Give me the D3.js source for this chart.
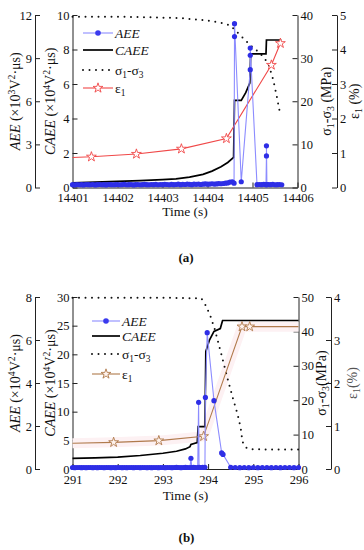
<!DOCTYPE html>
<html><head><meta charset="utf-8">
<script src="https://cdn.jsdelivr.net/npm/d3@7"></script>
<style>body{margin:0;background:#fff}svg{display:block}</style>
</head><body>
<svg id="c" width="364" height="550"></svg>
<script>
// ---------- Panel (a) data ----------
const timeTicksA = [14401, 14402, 14403, 14404, 14405, 14406];
const timeMinorA = [14401.5, 14402.5, 14403.5, 14404.5, 14405.5];
const aeeTicksA = [0, 3, 6, 9, 12];
const aeeMinorA = [1.5, 4.5, 7.5, 10.5];
const caeeTicksA = [0, 2, 4, 6, 8, 10];
const caeeMinorA = [1, 3, 5, 7, 9];
const stressTicksA = [0, 10, 20, 30, 40];
const stressMinorA = [5, 15, 25, 35];
const strainTicksA = [0, 1, 2, 3, 4, 5];
const strainMinorA = [0.5, 1.5, 2.5, 3.5, 4.5];
const caeeA = [[14401,0.27],[14401.5,0.31],[14402,0.35],[14402.5,0.4],[14403,0.46],[14403.3,0.5],[14403.6,0.6],[14403.9,0.76],[14404.1,0.95],[14404.3,1.2],[14404.45,1.45],[14404.58,1.75],[14404.6,5.05],[14404.75,5.05],[14404.85,5.5],[14404.94,6.05],[14404.96,7.75],[14405.3,7.75],[14405.31,8.55],[14405.64,8.55]];
const stressA = [[14401,39.6],[14402,39.6],[14403,39.4],[14403.5,39.2],[14404,38.7],[14404.3,38.2],[14404.5,37.6],[14404.72,35.4],[14404.94,33.1],[14405.17,31.1],[14405.35,28.8],[14405.46,25],[14405.54,21.1],[14405.61,17.3]];
const strainA = [[14401,0.87],[14401.42,0.89],[14402.42,0.97],[14403.42,1.12],[14404.42,1.42],[14405.42,3.55],[14405.62,4.18]];
const aeeA = [
  [14401.00,0.20],[14401.05,0.18],[14401.10,0.21],[14401.15,0.19],[14401.20,0.20],[14401.25,0.18],[14401.30,0.21],[14401.35,0.20],[14401.40,0.19],[14401.45,0.21],
  [14401.50,0.18],[14401.55,0.20],[14401.60,0.21],[14401.65,0.19],[14401.70,0.20],[14401.75,0.18],[14401.80,0.21],[14401.85,0.20],[14401.90,0.19],[14401.95,0.20],
  [14402.00,0.21],[14402.05,0.19],[14402.10,0.20],[14402.15,0.22],[14402.20,0.19],[14402.25,0.20],[14402.30,0.21],[14402.35,0.18],[14402.40,0.20],[14402.45,0.21],
  [14402.50,0.19],[14402.55,0.20],[14402.60,0.22],[14402.65,0.20],[14402.70,0.19],[14402.75,0.21],[14402.80,0.20],[14402.85,0.22],[14402.90,0.19],[14402.95,0.21],
  [14403.00,0.20],[14403.05,0.22],[14403.10,0.21],[14403.15,0.19],[14403.20,0.22],[14403.25,0.20],[14403.30,0.21],[14403.35,0.23],[14403.40,0.20],[14403.45,0.22],
  [14403.50,0.21],[14403.55,0.23],[14403.60,0.22],[14403.65,0.20],[14403.70,0.23],[14403.75,0.22],[14403.80,0.24],[14403.85,0.21],[14403.90,0.23],[14403.95,0.25],
  [14404.00,0.23],[14404.05,0.24],[14404.10,0.26],[14404.15,0.24],[14404.20,0.25],[14404.25,0.27],[14404.30,0.26],[14404.35,0.28],[14404.40,0.30],[14404.45,0.32],
  [14404.50,0.38],[14404.55,0.40],[14404.59,0.30],[14404.60,10.5],[14404.60,11.4],[14404.75,0.40],[14404.95,8.2],[14404.95,9.2],[14404.95,9.7],
  [14405.10,0.20],[14405.15,0.21],[14405.20,0.20],[14405.25,0.22],[14405.30,0.20],[14405.31,2.2],[14405.31,2.9],[14405.32,0.20],[14405.35,0.21],[14405.40,0.20],
  [14405.45,0.22],[14405.50,0.19],[14405.55,0.20],[14405.60,0.21],[14405.65,0.19]];

// ---------- Panel (b) data ----------
const timeTicksB = [291, 292, 293, 294, 295, 296];
const timeMinorB = [291.5, 292.5, 293.5, 294.5, 295.5];
const aeeTicksB = [0, 2, 4, 6, 8];
const aeeMinorB = [1, 3, 5, 7];
const caeeTicksB = [0, 5, 10, 15, 20, 25, 30];
const caeeMinorB = [2.5, 7.5, 12.5, 17.5, 22.5, 27.5];
const stressTicksB = [0, 10, 20, 30, 40, 50];
const stressMinorB = [5, 15, 25, 35, 45];
const strainTicksB = [0, 1, 2, 3, 4];
const strainMinorB = [0.5, 1.5, 2.5, 3.5];
const caeeB = [[291,1.86],[291.5,1.95],[292,2.08],[292.5,2.35],[293,2.75],[293.3,3.1],[293.5,3.5],[293.6,3.9],[293.62,4.3],[293.76,4.6],[293.78,7.4],[293.93,7.4],[293.95,20.5],[294.03,22.5],[294.13,24.0],[294.27,24.5],[294.32,25.9],[296,25.9]];
const stressB = [[291,49.8],[292,49.8],[293,49.8],[293.85,49.6],[293.95,47.5],[294.05,44.5],[294.15,40.5],[294.3,33],[294.42,26.8],[294.55,20.5],[294.65,16],[294.72,12],[294.76,8],[294.82,6.4],[294.9,5.8],[295.2,5.7],[296,5.7]];
const strainB = [[291,0.6],[291.91,0.62],[292.91,0.66],[293.9,0.76],[294.75,3.31],[294.92,3.31],[296,3.31]];
const aeeB = [
  [291.00,0.07],[291.05,0.06],[291.10,0.07],[291.15,0.07],[291.20,0.06],[291.25,0.07],[291.30,0.06],[291.35,0.07],[291.40,0.07],[291.45,0.06],
  [291.50,0.07],[291.55,0.06],[291.60,0.07],[291.65,0.07],[291.70,0.06],[291.75,0.07],[291.80,0.07],[291.85,0.06],[291.90,0.07],[291.95,0.06],
  [292.00,0.07],[292.05,0.07],[292.10,0.06],[292.15,0.07],[292.20,0.06],[292.25,0.07],[292.30,0.07],[292.35,0.06],[292.40,0.07],[292.45,0.07],
  [292.50,0.06],[292.55,0.07],[292.60,0.07],[292.65,0.06],[292.70,0.07],[292.75,0.06],[292.80,0.07],[292.85,0.07],[292.90,0.06],[292.95,0.07],
  [293.00,0.07],[293.05,0.06],[293.10,0.07],[293.15,0.07],[293.20,0.06],[293.25,0.07],[293.30,0.08],[293.35,0.07],[293.40,0.06],[293.45,0.07],
  [293.50,0.08],[293.55,0.07],[293.60,0.07],[293.62,0.5],[293.64,0.07],[293.68,0.08],[293.72,0.07],[293.77,0.07],[293.79,3.1],[293.80,0.08],
  [293.84,0.07],[293.88,0.08],[293.93,0.08],[293.94,3.33],[293.98,6.34],[294.13,3.18],[294.30,0.75],[294.33,0.68],[294.50,0.08],
  [294.60,0.07],[294.70,0.06],[294.80,0.07],[294.90,0.06],[295.00,0.07],[295.10,0.06],[295.20,0.07],[295.30,0.07],[295.40,0.06],
  [295.50,0.07],[295.60,0.06],[295.70,0.07],[295.80,0.07],[295.90,0.06],[296.00,0.07]];

const FONT = "Liberation Serif, Times New Roman, serif";
const svg = d3.select("#c").attr("font-family", FONT);

function rich(parent, parts) {
  const t = parent.append("text").attr("font-family", FONT);
  let shift = 0;
  parts.forEach(p => {
    const ts = t.append("tspan").text(p.t);
    const target = p.sup ? -4.5 : p.sub ? 3 : 0;
    const dy = target - shift; shift = target;
    if (dy) ts.attr("dy", dy);
    if (p.sup || p.sub) ts.attr("font-size", "0.7em");
    if (p.i) ts.attr("font-style", "italic");
  });
  return t;
}

function panel(c) {
  const g = svg.append("g");
  const x = d3.scaleLinear().domain(c.xDomain).range([c.left, c.right]);
  const yA = d3.scaleLinear().domain([0, c.aeeMax]).range([c.bottom, c.top]);
  const yC = d3.scaleLinear().domain([0, c.caeeMax]).range([c.bottom, c.top]);
  const yS = d3.scaleLinear().domain([0, c.stressMax]).range([c.bottom, c.top]);
  const yE = d3.scaleLinear().domain([0, c.strainMax]).range([c.bottom, c.top]);

  function ax(axisGen, scale, ticks, minor, tx, ty, pad) {
    const gg = g.append("g").attr("transform", `translate(${tx},${ty})`);
    gg.call(axisGen(scale).tickValues(minor).tickSize(-3).tickSizeOuter(0).tickFormat(""));
    gg.call(axisGen(scale).tickValues(ticks).tickSize(-5).tickSizeOuter(0).tickPadding(pad).tickFormat(d3.format("d")));
    gg.attr("font-family", FONT);
    gg.selectAll("path,line").attr("stroke", "#222").attr("stroke-width", 1);
    gg.selectAll("text").attr("font-size", 12.5).attr("fill", "#111").attr("font-family", FONT);
    return gg;
  }
  ax(d3.axisBottom, x, c.timeTicks, c.timeMinor, 0, c.bottom, 6);
  ax(d3.axisLeft, yA, c.aeeTicks, c.aeeMinor, c.aeeX, 0, 3);
  ax(d3.axisLeft, yC, c.caeeTicks, c.caeeMinor, c.left, 0, 3);
  ax(d3.axisRight, yS, c.stressTicks, c.stressMinor, c.right, 0, 3);
  ax(d3.axisRight, yE, c.strainTicks, c.strainMinor, c.epsX, 0, 3);

  const line = (ys) => d3.line().x(d => x(d[0])).y(d => ys(d[1]));

  if (c.band) {
    g.append("path").datum(c.strain).attr("d", line(yE)).attr("fill", "none")
      .attr("stroke", c.band).attr("stroke-width", 10);
  }
  g.append("path").datum(c.stress).attr("d", line(yS)).attr("fill", "none")
    .attr("stroke", "#111").attr("stroke-width", 2).attr("stroke-linecap", "round")
    .attr("stroke-dasharray", "0,6.5");
  g.append("path").datum(c.caee).attr("d", line(yC)).attr("fill", "none")
    .attr("stroke", "#000").attr("stroke-width", 1.7);
  g.append("path").datum(c.strain).attr("d", line(yE)).attr("fill", "none")
    .attr("stroke", c.epsColor).attr("stroke-width", 1.1);
  const star = d3.symbol(d3.symbolStar).size(30);
  g.selectAll(".st").data(c.strain.filter(d => d[0] > c.xDomain[0] && d[0] < c.xDomain[1]))
    .join("path").attr("d", star)
    .attr("transform", d => `translate(${x(d[0])},${yE(d[1])})`)
    .attr("fill", c.epsFill).attr("stroke", c.epsColor).attr("stroke-width", 0.9);
  g.append("path").datum(c.aee).attr("d", line(yA)).attr("fill", "none")
    .attr("stroke", "#8c8cff").attr("stroke-width", 1.1);
  g.selectAll(".ae").data(c.aee).join("circle")
    .attr("cx", d => x(d[0])).attr("cy", d => yA(d[1])).attr("r", 2.6)
    .attr("fill", "#2e2ee6");

  const L = c.legend;
  const lg = g.append("g");
  lg.append("line").attr("x1", L.x1).attr("x2", L.x2).attr("y1", L.ys[0]).attr("y2", L.ys[0])
    .attr("stroke", "#8c8cff").attr("stroke-width", 1.1);
  lg.append("circle").attr("cx", (L.x1 + L.x2) / 2).attr("cy", L.ys[0]).attr("r", 2.8).attr("fill", "#3a3aee");
  lg.append("line").attr("x1", L.x1).attr("x2", L.x2).attr("y1", L.ys[1]).attr("y2", L.ys[1])
    .attr("stroke", "#000").attr("stroke-width", 1.7);
  lg.append("line").attr("x1", L.x1).attr("x2", L.x2).attr("y1", L.ys[2]).attr("y2", L.ys[2])
    .attr("stroke", "#111").attr("stroke-width", 2).attr("stroke-linecap", "round").attr("stroke-dasharray", "0,6.5");
  lg.append("line").attr("x1", L.x1).attr("x2", L.x2).attr("y1", L.ys[3]).attr("y2", L.ys[3])
    .attr("stroke", c.epsColor).attr("stroke-width", 1.1);
  lg.append("path").attr("d", star).attr("transform", `translate(${(L.x1 + L.x2) / 2},${L.ys[3]})`)
    .attr("fill", c.epsFill).attr("stroke", c.epsColor).attr("stroke-width", 0.9);
  const texts = [
    [{t: "AEE", i: true}],
    [{t: "CAEE", i: true}],
    [{t: "σ"}, {t: "1", sub: true}, {t: "-σ"}, {t: "3", sub: true}],
    [{t: "ε"}, {t: "1", sub: true}]
  ];
  texts.forEach((p, i) => {
    rich(lg, p).attr("x", L.x2 + 2).attr("y", L.ys[i] + 4.5).attr("font-size", 13.5).attr("fill", "#111");
  });

  const cy = (c.top + c.bottom) / 2;
  const rot = (xx, parts, col) => rich(g, parts).attr("transform", `translate(${xx},${cy}) rotate(-90)`)
    .attr("text-anchor", "middle").attr("dy", "0.35em").attr("font-size", 14).attr("fill", col || "#111");
  rot(c.labX[0], [{t: "AEE", i: true}, {t: " (×10"}, {t: c.aeeExp, sup: true}, {t: "V"}, {t: "2", sup: true}, {t: "·μs)"}]);
  rot(c.labX[1], [{t: "CAEE", i: true}, {t: " (×10"}, {t: "4", sup: true}, {t: "V"}, {t: "2", sup: true}, {t: "·μs)"}]);
  rot(c.labX[2], [{t: "σ"}, {t: "1", sub: true}, {t: "-σ"}, {t: "3", sub: true}, {t: c.gap + "(MPa)"}]);
  rot(c.labX[3], [{t: "ε"}, {t: "1", sub: true}, {t: c.gap + "(%)"}], c.epsLabCol);

  g.append("text").attr("x", (c.left + c.right) / 2).attr("y", c.timeY).attr("text-anchor", "middle")
    .attr("font-size", 13.5).attr("fill", "#111").text("Time (s)");
  g.append("text").attr("x", (c.left + c.right) / 2 + 1).attr("y", c.tagY).attr("text-anchor", "middle")
    .attr("font-size", 13).attr("font-weight", "bold").attr("fill", "#111").text(c.tag);
}

panel({
  xDomain: [14401, 14406], left: 72.5, right: 297.5, top: 15, bottom: 187.5, aeeX: 35, epsX: 337,
  aeeMax: 12, caeeMax: 10, stressMax: 40, strainMax: 5,
  timeTicks: timeTicksA, timeMinor: timeMinorA, aeeTicks: aeeTicksA, aeeMinor: aeeMinorA,
  caeeTicks: caeeTicksA, caeeMinor: caeeMinorA, stressTicks: stressTicksA, stressMinor: stressMinorA,
  strainTicks: strainTicksA, strainMinor: strainMinorA,
  caee: caeeA, stress: stressA, strain: strainA, aee: aeeA,
  epsColor: "#f04848", epsFill: "#fff", band: null,
  legend: {x1: 83, x2: 113, ys: [33, 50, 70, 88]},
  labX: [15, 50, 326, 354], aeeExp: "3", gap: " ", epsLabCol: "#111",
  timeY: 216, tagY: 262, tag: "(a)"
});
panel({
  xDomain: [291, 296], left: 72.5, right: 298.5, top: 297, bottom: 469, aeeX: 35, epsX: 331,
  aeeMax: 8, caeeMax: 30, stressMax: 50, strainMax: 4,
  timeTicks: timeTicksB, timeMinor: timeMinorB, aeeTicks: aeeTicksB, aeeMinor: aeeMinorB,
  caeeTicks: caeeTicksB, caeeMinor: caeeMinorB, stressTicks: stressTicksB, stressMinor: stressMinorB,
  strainTicks: strainTicksB, strainMinor: strainMinorB,
  caee: caeeB, stress: stressB, strain: strainB, aee: aeeB,
  epsColor: "#b07a4c", epsFill: "#fff3ee", band: "#fdf1f3",
  legend: {x1: 92, x2: 120, ys: [321, 336, 354, 374]},
  labX: [15, 50, 321, 352], aeeExp: "4", gap: "", epsLabCol: "#555",
  timeY: 500, tagY: 542, tag: "(b)"
});
</script></body></html>
